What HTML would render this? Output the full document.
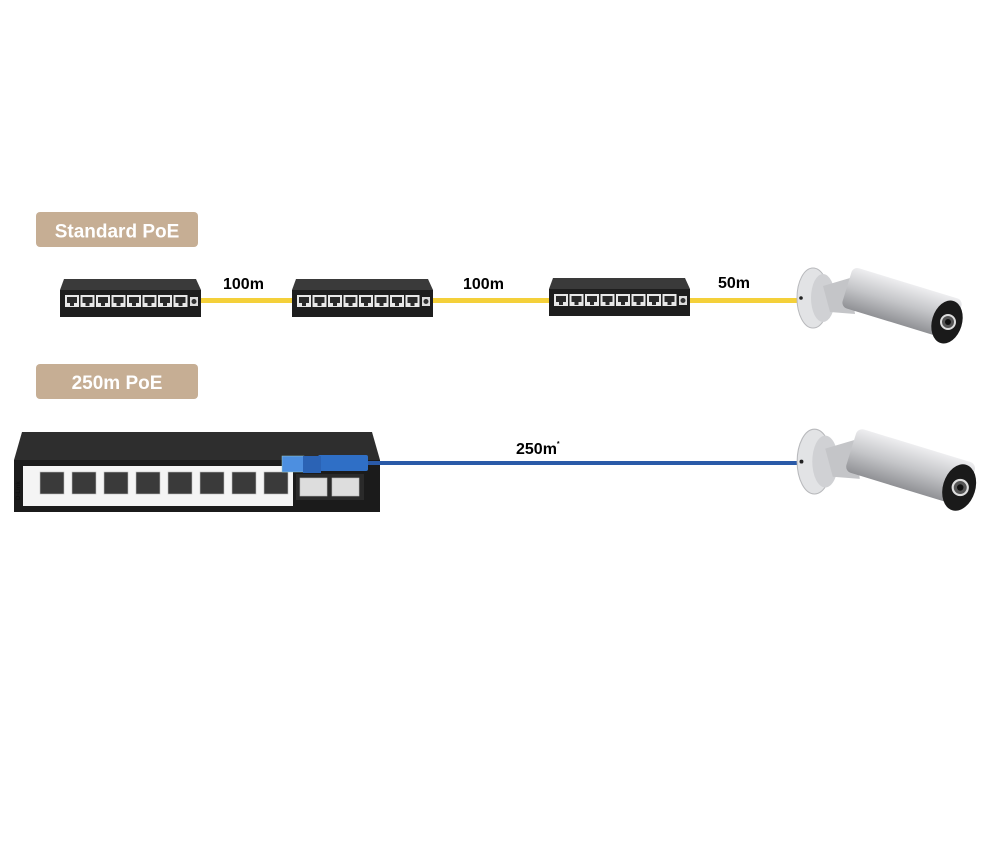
<!DOCTYPE html>
<html><head><meta charset="utf-8"><style>
html,body{margin:0;padding:0;background:#fff;}
svg{display:block;}
text{font-family:"Liberation Sans",sans-serif;font-weight:bold;}
</style></head><body>
<svg width="1000" height="864" viewBox="0 0 1000 864" xmlns="http://www.w3.org/2000/svg">
<defs>
<g id="port">
  <rect x="0" y="0" width="14" height="12" fill="#e8e8e8"/>
  <rect x="2" y="2" width="10" height="6" fill="#2a2a2a"/>
  <rect x="5" y="8" width="4" height="3" fill="#2a2a2a"/>
</g>
<g id="sw">
  <path d="M4 0 H136 L141 11 H0 Z" fill="#3a3a3a"/>
  <rect x="0" y="11" width="141" height="27" fill="#1e1e1e"/>
  <use href="#port" x="5" y="16"/><use href="#port" x="20.5" y="16"/>
  <use href="#port" x="36" y="16"/><use href="#port" x="51.5" y="16"/>
  <use href="#port" x="67" y="16"/><use href="#port" x="82.5" y="16"/>
  <use href="#port" x="98" y="16"/><use href="#port" x="113.5" y="16"/>
  <rect x="130" y="18" width="8" height="9" fill="#ddd"/>
  <circle cx="134" cy="22.5" r="2.5" fill="#333"/>
</g>
<linearGradient id="cam" x1="0" y1="0" x2="0" y2="1">
  <stop offset="0" stop-color="#eeeef0"/><stop offset="0.5" stop-color="#c4c5c8"/><stop offset="1" stop-color="#909195"/>
</linearGradient>
<g id="camera">
  <ellipse cx="18" cy="20" rx="16" ry="30" fill="#e2e3e5" stroke="#b8b9bc"/>
  <ellipse cx="28" cy="20" rx="12" ry="24" fill="#d0d1d4"/>
  <circle cx="6" cy="20" r="1.8" fill="#222"/>
  <path d="M28 8 L55 0 L60 36 L35 34 Z" fill="#c4c5c8"/>
  <g transform="rotate(17 60 10)">
    <rect x="52" y="-10" width="115" height="42" rx="6" fill="url(#cam)"/>
  </g>
  <ellipse cx="152" cy="44" rx="15" ry="22" transform="rotate(17 152 44)" fill="#1a1a1a"/>
  <circle cx="153" cy="44" r="7" fill="#555" stroke="#ddd" stroke-width="2"/>
  <circle cx="153" cy="44" r="3" fill="#111"/>
</g>
</defs>

<rect x="36" y="212" width="162" height="35" rx="4" fill="#c6ae94"/>
<text x="117" y="237.5" font-size="19" fill="#fff" text-anchor="middle">Standard PoE</text>
<rect x="36" y="364" width="162" height="35" rx="4" fill="#c6ae94"/>
<text x="117" y="389" font-size="19" fill="#fff" text-anchor="middle">250m PoE</text>

<rect x="198" y="298" width="96" height="5" fill="#f4d03a"/>
<rect x="431" y="298" width="120" height="5" fill="#f4d03a"/>
<rect x="688" y="298" width="112" height="5" fill="#f4d03a"/>

<use href="#sw" x="60" y="279"/>
<use href="#sw" x="292" y="279"/>
<use href="#sw" x="549" y="278"/>

<text x="223" y="289" font-size="16" fill="#000">100m</text>
<text x="463" y="289" font-size="16" fill="#000">100m</text>
<text x="718" y="288" font-size="16" fill="#000">50m</text>

<use href="#camera" x="795" y="278"/>

<path d="M22 432 H372 L380 460 H14 Z" fill="#2e2e2e"/>
<rect x="14" y="460" width="366" height="52" fill="#1b1b1b"/>
<rect x="23" y="466" width="270" height="40" fill="#f4f4f4"/>
<rect x="296" y="474" width="68" height="26" fill="#2a2a2a"/>
<g fill="#3a3a3a" stroke="#bbb" stroke-width="0.6">
  <rect x="40" y="472" width="24" height="22"/><rect x="72" y="472" width="24" height="22"/>
  <rect x="104" y="472" width="24" height="22"/><rect x="136" y="472" width="24" height="22"/>
  <rect x="168" y="472" width="24" height="22"/><rect x="200" y="472" width="24" height="22"/>
  <rect x="232" y="472" width="24" height="22"/><rect x="264" y="472" width="24" height="22"/>
  <rect x="300" y="478" width="27" height="18" fill="#ddd"/><rect x="332" y="478" width="27" height="18" fill="#ddd"/>
</g>
<text x="20" y="500" font-size="6" fill="#111" transform="rotate(-90 20 500)">D-Link</text>

<rect x="360" y="461" width="440" height="4" fill="#2a5aa8"/>
<rect x="318" y="455" width="50" height="16" rx="2" fill="#2f6fc6"/>
<rect x="282" y="456" width="22" height="16" fill="#4d8fe0" stroke="#9cc" stroke-width="0.5"/>
<rect x="303" y="456" width="18" height="17" fill="#2b63b5"/>

<text x="516" y="454" font-size="16" fill="#000">250m<tspan font-size="7" dy="-8">*</tspan></text>

<g transform="translate(795,440) scale(1.08)"><use href="#camera"/></g>
</svg>
</body></html>
